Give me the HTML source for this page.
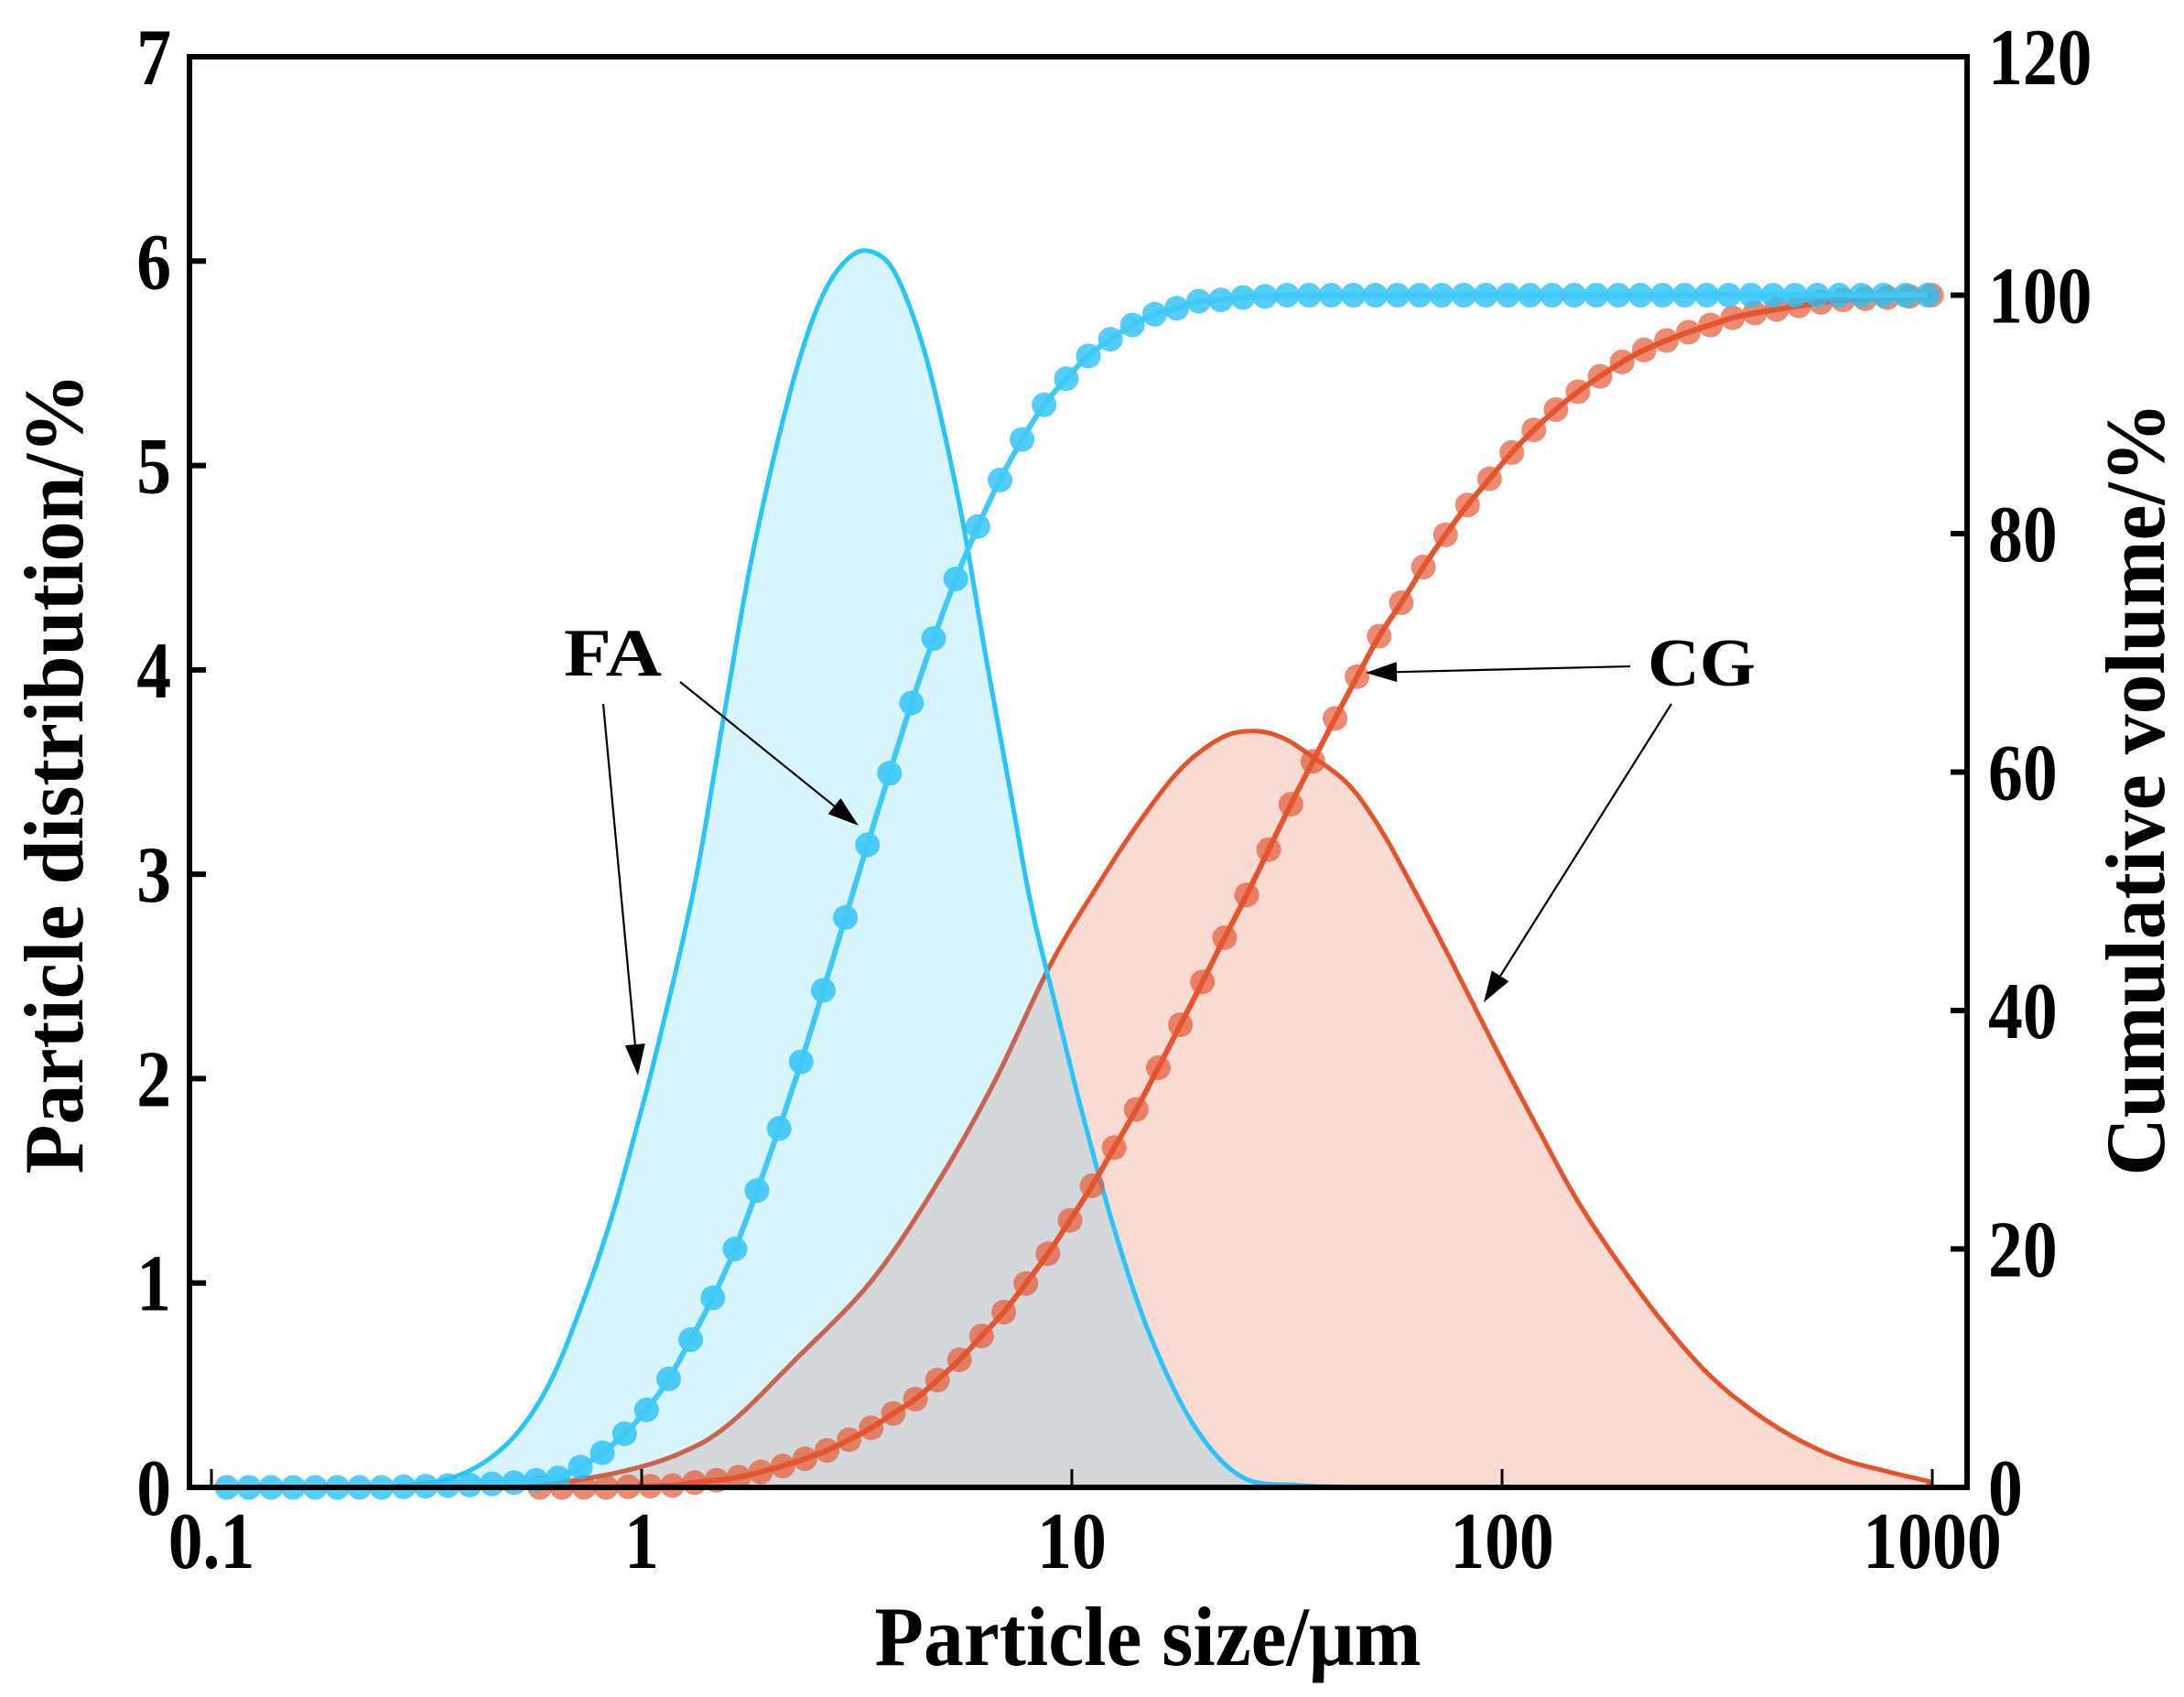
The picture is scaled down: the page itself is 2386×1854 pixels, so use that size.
<!DOCTYPE html>
<html><head><meta charset="utf-8"><style>
html,body{margin:0;padding:0;background:#fff;}
svg{display:block;font-family:"Liberation Serif",serif;font-weight:bold;}
</style></head><body>
<svg id="chart" width="2386" height="1854" viewBox="0 0 2386 1854" xmlns="http://www.w3.org/2000/svg">
<defs><clipPath id="faClip"><path id="faClipPath" d=""/></clipPath></defs>
<g id="fills"></g><g id="lines"></g><g id="cum"></g><g id="axes"></g><g id="annot"></g>
</svg>
<script>
// ---------- data ----------
const faSizes = [0.252,0.366,0.485,0.604,0.728,0.851,0.962,1.09,1.32,1.54,1.77,2.04,2.35,2.66,3.01,3.36,3.81,4.31,4.82,5.56,6.28,7.13,8.06,9.16,10.7,12.9,15.5,19.4,24.9,33.9,50.1];
const faDist = [0,0.05,0.21,0.49,0.9,1.32,1.72,2.16,2.92,3.73,4.46,5.06,5.55,5.85,6.01,6.05,5.97,5.71,5.35,4.74,4.09,3.45,2.84,2.36,1.79,1.18,0.70,0.29,0.05,0.01,0];
const cgSizes = [0.556,0.912,1.27,1.62,2.29,3.42,4.84,6.59,8.93,11.6,14.4,18.0,22.4,26.6,30.7,35.4,43.9,52.2,61.5,72.7,85.9,101,123,149,185,236,300,379,482,613,778,980];
const cgDist = [0,0.08,0.18,0.32,0.63,1.01,1.48,1.98,2.56,2.96,3.26,3.52,3.67,3.70,3.67,3.59,3.44,3.22,2.95,2.66,2.36,2.07,1.73,1.41,1.11,0.81,0.56,0.38,0.24,0.14,0.08,0.03];
const faCumStartLog = -0.964, cumLogStep = 0.05134;
const faCum = [0,0,0,0,0,0,0,0,0.05,0.1,0.15,0.2,0.3,0.4,0.6,
 0.8,1.7,2.9,4.5,6.5,9.1,12.4,15.9,20.0,24.9,30.1,35.7,41.7,47.8,53.9,59.9,65.8,71.2,76.2,80.6,84.5,87.9,90.8,93.0,94.9,96.3,97.5,98.4,98.9,99.5,99.6,99.8,99.9,
 100,100,100,100,100,100,100,100,100,100,100,100,100,100,100,100,100,100,100,100,100,100,100,100,100,100,100,100,100,100];
const cgCumStartLog = -0.2365;
const cgCum = [0,0,0,0,0.05,0.1,
 0.15,0.4,0.6,0.85,1.3,1.8,2.4,3.1,4.0,5.0,6.2,7.4,9.0,10.7,12.7,14.7,17.1,19.6,22.4,25.3,28.5,31.7,35.2,38.8,42.4,46.1,49.7,53.5,57.3,60.9,64.5,68.0,71.4,
 74.2,77.2,79.9,82.4,84.6,86.8,88.7,90.4,91.9,93.2,94.4,95.4,96.2,96.9,97.5,98.1,98.5,98.8,99.1,99.4,99.6,99.7,99.8,99.9,100];
const xTicks = [0.1,1,10,100,1000];
const xTickLabels = ["0.1","1","10","100","1000"];
const yLeftTicks = [0,1,2,3,4,5,6,7];
const yRightTicks = [0,20,40,60,80,100,120];

// ---------- scales ----------
const L=207,R=2149,T=62,B=1625;
const xS = v => 231 + 470*(Math.log10(v)+1);
const xLog = lg => 231 + 470*(lg+1);
const yL = v => B - v*(B-T)/7;
const yR = v => B - v*(B-T)/120;
const NS='http://www.w3.org/2000/svg';
function mk(tag, attrs, parent){const e=document.createElementNS(NS,tag);for(const k in attrs)e.setAttribute(k,attrs[k]);parent.appendChild(e);return e;}
function smooth(p,n){const out=[];for(let i=0;i<p.length-1;i++){const p0=p[Math.max(0,i-1)],p1=p[i],p2=p[i+1],p3=p[Math.min(p.length-1,i+2)];
  for(let k=0;k<n;k++){const t=k/n,t2=t*t,t3=t2*t;
   const f=(a,b,c,d)=>0.5*((2*b)+(-a+c)*t+(2*a-5*b+4*c-d)*t2+(-a+3*b-3*c+d)*t3);
   out.push([f(p0[0],p1[0],p2[0],p3[0]),Math.min(B,f(p0[1],p1[1],p2[1],p3[1]))]);}}
  out.push(p[p.length-1]);return out;}
function interpPts(pts,x){if(x<pts[0][0]||x>pts[pts.length-1][0])return B;for(let i=1;i<pts.length;i++){if(x<=pts[i][0]){const t=(x-pts[i-1][0])/((pts[i][0]-pts[i-1][0])||1);return pts[i-1][1]+t*(pts[i][1]-pts[i-1][1]);}}return B;}

const fills=document.getElementById('fills'),lines=document.getElementById('lines'),cum=document.getElementById('cum'),axes=document.getElementById('axes'),annot=document.getElementById('annot');

const faPts = smooth(faSizes.map((s,i)=>[xS(s),yL(faDist[i])]),10);
const cgPts = smooth(cgSizes.map((s,i)=>[xS(s),yL(cgDist[i])]),10);
const lineD = p => 'M'+p.map(q=>q[0].toFixed(1)+','+q[1].toFixed(1)).join(' L');
const faArea = lineD(faPts)+` L${faPts[faPts.length-1][0]},${B} L${faPts[0][0]},${B} Z`;
const cgArea = lineD(cgPts)+` L${cgPts[cgPts.length-1][0]},${B} L${cgPts[0][0]},${B} Z`;
document.getElementById('faClipPath').setAttribute('d', faArea);

const cgFill = mk('path',{d:cgArea,fill:'#f9dbd4'},fills);


const faFill = mk('path',{d:faArea,fill:'#d8f5fd'},fills);


const ov=[];const xa=cgPts[0][0],xb=faPts[faPts.length-1][0];
for(let k=0;k<=400;k++){const x=xa+(xb-xa)*k/400;ov.push([x,Math.max(interpPts(faPts,x),interpPts(cgPts,x))]);}
const ovEl = mk('path',{d:lineD(ov)+` L${ov[ov.length-1][0]},${B} L${ov[0][0]},${B} Z`,fill:'#d5d8db'},fills);



const cgLine = mk('path',{d:lineD(cgPts)+` L${cgPts[cgPts.length-1][0]},${B}`,fill:'none',stroke:'#e4532c','stroke-width':5,'stroke-linejoin':'round'},lines);


const cgLine2 = mk('path',{d:lineD(cgPts),fill:'none',stroke:'#c8644f','stroke-width':5,'clip-path':'url(#faClip)'},lines);


const faLine = mk('path',{d:lineD(faPts),fill:'none',stroke:'#27c5fa','stroke-width':5,'stroke-linejoin':'round'},lines);



function drawCum(vals,startLog,mcol,lcol,name){
  const pts=vals.map((v,i)=>[xLog(startLog+cumLogStep*i),yR(v)]);
  pts.forEach((p,i)=>{const c=mk('circle',{cx:p[0].toFixed(1),cy:p[1].toFixed(1),r:13.5,fill:mcol},cum);
    
    });
  const l=mk('path',{d:lineD(smooth(pts,4)),fill:'none',stroke:lcol,'stroke-width':6,'stroke-linejoin':'round'},cum);
  
  
}
drawCum(cgCum,cgCumStartLog,'rgba(229,83,45,0.68)','#e4552d','cg-cumulative');
drawCum(faCum,faCumStartLog,'rgba(40,192,248,0.8)','#3ec9f7','fa-cumulative');

const frame=mk('rect',{x:L,y:T,width:R-L,height:B-T,fill:'none',stroke:'#000','stroke-width':6},axes);


function txt(s,x,y,size,anchor,name,squeeze,parent){
  const t=mk('text',{x:x,y:y,'font-size':size,'text-anchor':anchor,fill:'#000'},parent||axes);t.textContent=s;
  
  
  if(squeeze){const w=t.getComputedTextLength();t.setAttribute('textLength',(w*squeeze).toFixed(1));t.setAttribute('lengthAdjust','spacingAndGlyphs');}
  return t;}
xTicks.forEach((v,i)=>{const x=xS(v);
  const tk=mk('line',{x1:x,y1:B,x2:x,y2:B-20,stroke:'#000','stroke-width':3},axes);
  
  
  txt(xTickLabels[i],x,1713,88,'middle','x-tick-label',0.86);});
yLeftTicks.forEach(v=>{const y=yL(v);
  const tk=mk('line',{x1:L,y1:y,x2:L+18,y2:y,stroke:'#000','stroke-width':6},axes);
  
  
  txt(String(v),187,y+30,88,'end','y-left-tick-label',0.86);});
yRightTicks.forEach(v=>{const y=yR(v);
  const tk=mk('line',{x1:R,y1:y,x2:R-18,y2:y,stroke:'#000','stroke-width':6},axes);
  
  
  txt(String(v),2172,y+30,88,'start','y-right-tick-label',0.86);});
const xt=txt('Particle size/μm',1254,1819,92,'middle','x-axis-title');xt.setAttribute('textLength',597);xt.setAttribute('lengthAdjust','spacingAndGlyphs');
const yt=txt('Particle distribution/%',0,0,92,'middle','y-left-axis-title');yt.setAttribute('transform','translate(90,845) rotate(-90)');yt.setAttribute('textLength',875);yt.setAttribute('lengthAdjust','spacingAndGlyphs');
const yt2=txt('Cumulative volume/%',0,0,92,'middle','y-right-axis-title');yt2.setAttribute('transform','translate(2364,862) rotate(-90)');yt2.setAttribute('textLength',845);yt2.setAttribute('lengthAdjust','spacingAndGlyphs');

const fa=txt('FA',616,738,74,'start','fa-label',null,annot);fa.setAttribute('textLength',107);fa.setAttribute('lengthAdjust','spacingAndGlyphs');
const cg=txt('CG',1800,749,74,'start','cg-label',null,annot);cg.setAttribute('textLength',118);cg.setAttribute('lengthAdjust','spacingAndGlyphs');
function arrow(x1,y1,x2,y2,name){
  const g=mk('g',{},annot);
  
  
  const a=Math.atan2(y2-y1,x2-x1),hl=34,hw=11;
  const bx=x2-hl*Math.cos(a),by=y2-hl*Math.sin(a);
  mk('line',{x1:x1,y1:y1,x2:bx,y2:by,stroke:'#000','stroke-width':2.2},g);
  const px=-Math.sin(a)*hw,py=Math.cos(a)*hw;
  mk('polygon',{points:`${x2},${y2} ${bx+px},${by+py} ${bx-px},${by-py}`,fill:'#000'},g);
}
arrow(659,769,697,1175,'fa-arrow-distribution');
arrow(743,745,938,902,'fa-arrow-cumulative');
arrow(1781,728,1492,735,'cg-arrow-cumulative');
arrow(1826,769,1621,1095,'cg-arrow-distribution');
</script>
</body></html>
